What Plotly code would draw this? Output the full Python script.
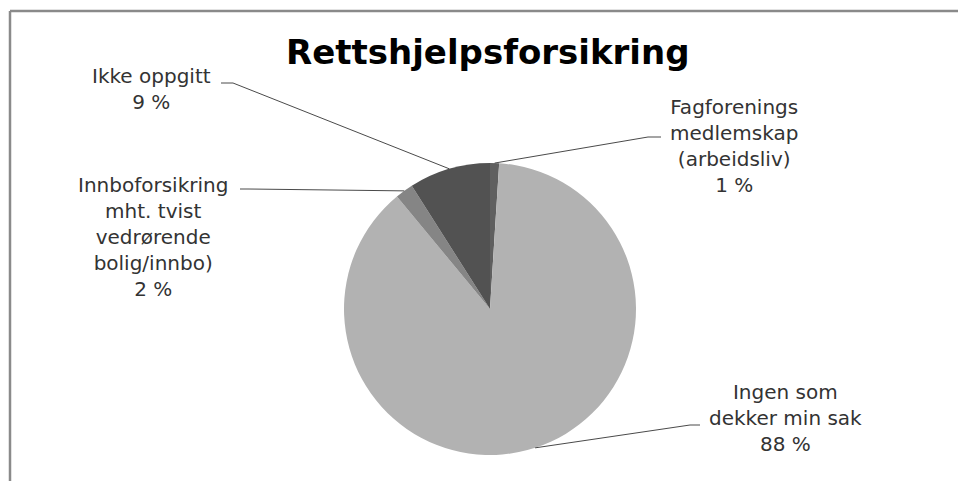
import math
import plotly.graph_objects as go

# ---- data ----
categories = [
    "Fagforenings medlemskap (arbeidsliv)",
    "Ingen som dekker min sak",
    "Innboforsikring mht. tvist vedrørende bolig/innbo)",
    "Ikke oppgitt",
]
label_lines = [
    "Fagforenings<br>medlemskap<br>(arbeidsliv)",
    "Ingen som<br>dekker min sak",
    "Innboforsikring<br>mht. tvist<br>vedrørende<br>bolig/innbo)",
    "Ikke oppgitt",
]
values = [1, 88, 2, 9]
title_text = "Rettshjelpsforsikring"

# ---- styling / layout ----
colors = ["#5f5f5f", "#b2b2b2", "#858585", "#525252"]
W, H = 958, 481
CX, CY, R = 490, 309, 146          # pie centre and radius in pixels
label_pos = [(734, 146), (785, 418), (153, 237), (151, 89)]
elbows = [((648, 137), (661, 137)),
          ((690, 425), (700, 425)),
          ((248, 189), (240, 189)),
          ((233, 83), (221, 83))]
LABEL_FONT = "DejaVu Sans"


def px(x):
    return x / W


def py(y):
    return 1 - y / H


fig = go.Figure(go.Pie(
    labels=categories,
    values=values,
    sort=False,
    direction="clockwise",
    rotation=0,
    marker=dict(colors=colors, line=dict(width=0)),
    textinfo="none",
    hoverinfo="label+percent",
    showlegend=False,
    domain=dict(x=[px(CX - R), px(CX + R)], y=[py(CY + R), py(CY - R)]),
))

total = sum(values)
shapes = []
annotations = []
cum = 0
for i, v in enumerate(values):
    mid = (cum + v / 2) / total * 2 * math.pi
    cum += v
    ex = CX + R * math.sin(mid)
    ey = CY - R * math.cos(mid)
    (bx, by), (tx, ty) = elbows[i]
    path = f"M {px(ex)},{py(ey)} L {px(bx)},{py(by)} L {px(tx)},{py(ty)}"
    shapes.append(dict(type="path", path=path, xref="paper", yref="paper",
                       line=dict(color="#4a4a4a", width=1)))
    lx, ly = label_pos[i]
    annotations.append(dict(
        text=f"{label_lines[i]}<br>{v} %",
        x=px(lx), y=py(ly), xref="paper", yref="paper",
        xanchor="center", yanchor="middle", showarrow=False, align="center",
        font=dict(family=LABEL_FONT, size=20, color="#333333"),
    ))

annotations.append(dict(
    text=f"<b>{title_text}</b>", x=px(488), y=py(52), xref="paper", yref="paper",
    xanchor="center", yanchor="middle", showarrow=False,
    font=dict(family="DejaVu Sans", size=34, color="#000000"),
))

# chart frame (cut at right and bottom as in the original)
shapes.append(dict(type="line", xref="paper", yref="paper",
                   x0=px(10), y0=py(11), x1=px(W + 5), y1=py(11),
                   line=dict(color="#8a8a8a", width=2.5)))
shapes.append(dict(type="line", xref="paper", yref="paper",
                   x0=px(10), y0=py(11), x1=px(10), y1=py(H + 5),
                   line=dict(color="#8a8a8a", width=2.5)))

fig.update_layout(
    width=W, height=H,
    margin=dict(l=0, r=0, t=0, b=0),
    paper_bgcolor="white", plot_bgcolor="white",
    shapes=shapes, annotations=annotations,
)

fig.write_html("out.html", config={"displayModeBar": False},
               post_script="document.body.style.margin='0px';")
